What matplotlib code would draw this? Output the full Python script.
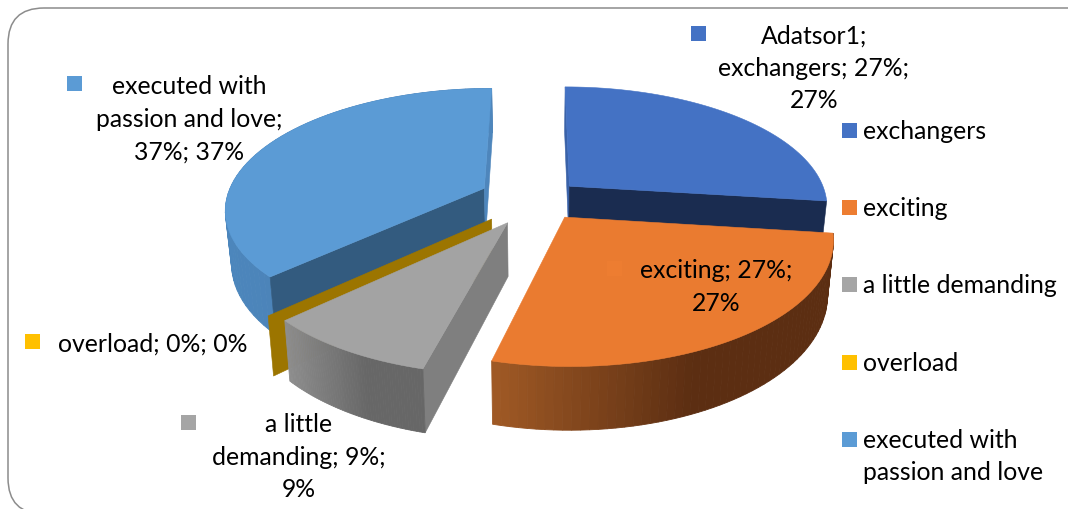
"""Exploded 3D pie, drawn by hand since matplotlib has no perspective pie."""
import numpy as np
import matplotlib
matplotlib.use("Agg")
import matplotlib.pyplot as plt
from matplotlib.patches import FancyBboxPatch, Polygon, Rectangle
from matplotlib.colors import to_rgb

categories = ["exchangers", "exciting", "a little demanding", "overload",
              "executed with\npassion and love"]
values = [27, 27, 9, 0, 37]

point_labels = ["Adatsor1;\nexchangers; 27%;\n27%",
                "exciting; 27%;\n27%",
                "a little\ndemanding; 9%;\n9%",
                "overload; 0%; 0%",
                "executed with\npassion and love;\n37%; 37%"]

_TOP = ["#4472C4", "#EA7B30", "#A3A3A3", "#FFC000", "#5B9BD5"]
_EDGE_WALL = ["#1A2C50", "#5F3013", "#7F7F7F", "#9C7500", "#335B7F"]
_RIM_LEFT = ["#3A62A8", "#A05A25", "#8E8E8E", "#9C7500", "#4C86BC"]
_RIM_RIGHT = ["#3A62A8", "#5C2E12", "#676767", "#9C7500", "#4C7FB2"]
_KEY = ["#4472C4", "#ED7D31", "#A5A5A5", "#FFC000", "#5B9BD5"]

# pie geometry, pixels
CX, CY = 538, 200
RX, RY = 258, 119
PERSP = 0.16
DEPTH = 52
SHRINK = 0.98
EXPLODE = [0.165, 0.18, 0.225, 0.24, 0.23]

# label layout: centre x, first line centre y, key square left/top
_LABEL_POS = [(814, 36, 691, 27), (716, 271, 607, 262), (299, 425, 181, 416),
              (153, 344, 25, 335), (189, 87, 67, 77)]
_LEGEND_KEY_Y = [124, 201, 278, 356, 433]
_FS = 17.8
plt.rcParams["font.family"] = ["Lato", "DejaVu Sans"]


def project(u, v):
    w = 1 + PERSP * np.asarray(v)
    return CX + RX * np.asarray(u) / w, CY - RY * np.asarray(v) / w


def slice_outline(t0, t1, explode):
    """Top and bottom rims of one slice, plus its apex, in pixel coords."""
    mid = (t0 + t1) / 2
    du, dv = explode * np.sin(mid), explode * np.cos(mid)
    ts = np.linspace(t0, t1, 60)
    u = du + np.sin(ts)
    v = dv + np.cos(ts)
    x, y = project(u, v)
    ax_, ay_ = project(du, dv)
    return (np.column_stack([x, y]), lower(x, y, v),
            np.array([ax_, ay_]), lower(ax_, ay_, dv))


def lower(x, y, v):
    w = 1 + PERSP * np.asarray(v)
    xb = CX + (np.asarray(x) - CX) * SHRINK
    yb = np.asarray(y) + DEPTH / w
    if np.ndim(xb) == 0:
        return np.array([xb, yb])
    return np.column_stack([xb, yb])


def draw_rim(ax, top, bot, c_left, c_right):
    # vertical strips shaded left to right
    x0, x1 = top[:, 0].min(), top[:, 0].max()
    a, b = np.array(to_rgb(c_left)), np.array(to_rgb(c_right))
    for i in range(len(top) - 1):
        f = np.clip(((top[i, 0] + top[i + 1, 0]) / 2 - x0) / (x1 - x0) * 1.7, 0, 1)
        col = a + (b - a) * f
        ax.add_patch(Polygon([top[i], top[i + 1], bot[i + 1], bot[i]], closed=True,
                             facecolor=col, edgecolor=col, linewidth=0.6))


def main():
    fig = plt.figure(figsize=(10.68, 5.10), dpi=100)
    ax = fig.add_axes([0, 0, 1, 1])
    ax.set_xlim(0, 1068)
    ax.set_ylim(510, 0)
    ax.axis("off")

    ax.add_patch(FancyBboxPatch((38, 39), 1037, 446,
                                boxstyle="round,pad=30,rounding_size=36", mutation_aspect=1,
                                facecolor="white", edgecolor="#8C8C8C", linewidth=1.1))

    edges = np.cumsum([0] + values) / sum(values) * 2 * np.pi
    parts = [slice_outline(edges[i], edges[i + 1], EXPLODE[i]) for i in range(len(values))]

    def quad(top_a, top_b, bot_b, bot_a, color):
        ax.add_patch(Polygon([top_a, top_b, bot_b, bot_a], closed=True,
                             facecolor=color, edgecolor=color, linewidth=0.4))

    # back to front: passion, overload, exchangers, exciting, demanding
    top, bot, apex, apex_b = parts[4]
    draw_rim(ax, top, bot, _RIM_LEFT[4], _RIM_RIGHT[4])
    quad(apex, top[0], bot[0], apex_b, _EDGE_WALL[4])
    quad(apex, top[-1], bot[-1], apex_b, "#4E86BC")
    ax.add_patch(Polygon(np.vstack([apex, top]), closed=True, facecolor=_TOP[4],
                         edgecolor=_TOP[4], linewidth=0.4))

    top, bot, apex, apex_b = parts[3]
    quad(apex, top[0], bot[0], apex_b, _EDGE_WALL[3])

    top, bot, apex, apex_b = parts[0]
    quad(apex, top[0], bot[0], apex_b, "#3A62A8")
    quad(apex, top[-1], bot[-1], apex_b, _EDGE_WALL[0])
    ax.add_patch(Polygon(np.vstack([apex, top]), closed=True, facecolor=_TOP[0],
                         edgecolor=_TOP[0], linewidth=0.4))

    top, bot, apex, apex_b = parts[1]
    draw_rim(ax, top[::-1], bot[::-1], _RIM_LEFT[1], _RIM_RIGHT[1])
    ax.add_patch(Polygon(np.vstack([apex, top]), closed=True, facecolor=_TOP[1],
                         edgecolor=_TOP[1], linewidth=0.4))

    top, bot, apex, apex_b = parts[2]
    quad(apex, top[0], bot[0], apex_b, _EDGE_WALL[2])
    draw_rim(ax, top[::-1], bot[::-1], _RIM_LEFT[2], _RIM_RIGHT[2])
    ax.add_patch(Polygon(np.vstack([apex, top]), closed=True, facecolor=_TOP[2],
                         edgecolor=_TOP[2], linewidth=0.4))

    # data labels with their little keys
    for i, lab in enumerate(point_labels):
        tx, ty, kx, ky = _LABEL_POS[i]
        ax.add_patch(Rectangle((kx, ky), 15, 15, facecolor=_KEY[i], edgecolor="none"))
        for j, line in enumerate(lab.split("\n")):
            ax.text(tx, ty + j * 32.5, line, fontsize=_FS, color="black",
                    ha="center", va="center")

    # legend
    for i, name in enumerate(categories):
        ky = _LEGEND_KEY_Y[i]
        ax.add_patch(Rectangle((842, ky), 15, 15, facecolor=_KEY[i], edgecolor="none"))
        for j, line in enumerate(name.split("\n")):
            ax.text(863, ky + 7.5 + j * 32.5, line, fontsize=_FS, color="black",
                    ha="left", va="center")

    fig.savefig("out.png", dpi=100)


if __name__ == "__main__":
    main()
